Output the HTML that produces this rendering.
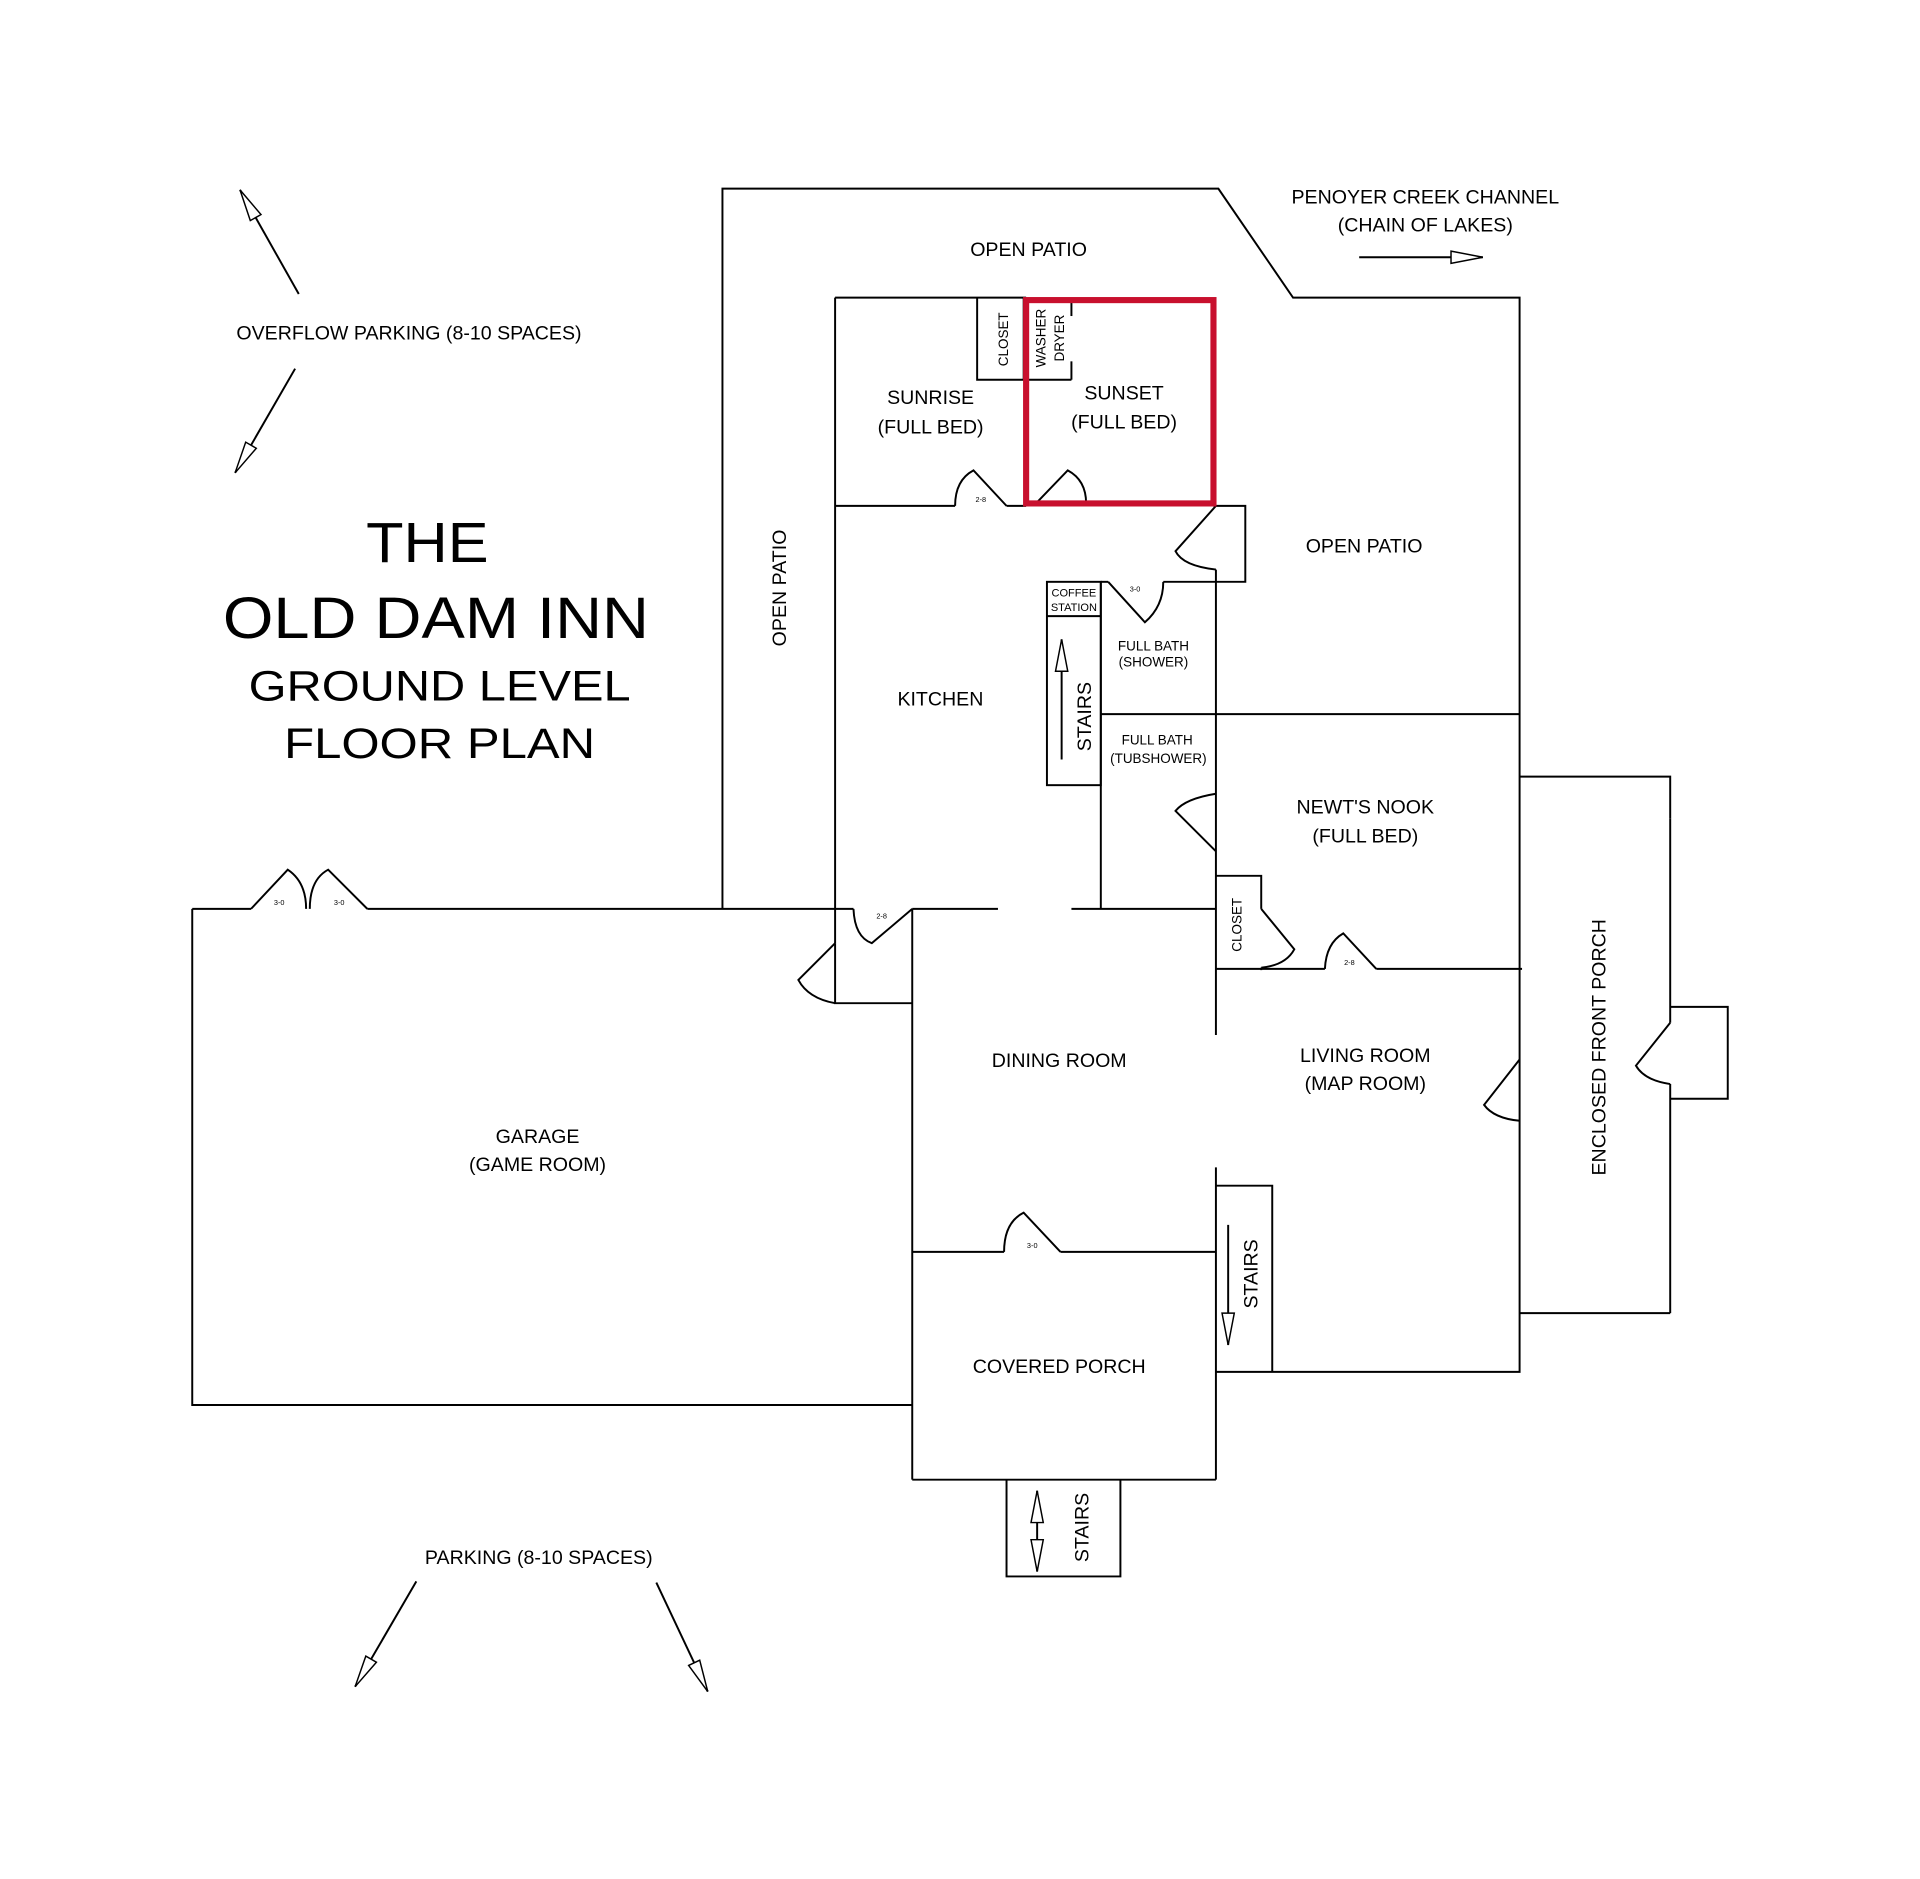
<!DOCTYPE html>
<html><head><meta charset="utf-8"><style>html,body{margin:0;padding:0;background:#fff}svg{display:block}text{font-family:"Liberation Sans",Arial,sans-serif;fill:#000}</style></head>
<body>
<svg width="1920" height="1879" viewBox="0 0 1568 1534" preserveAspectRatio="none" xmlns="http://www.w3.org/2000/svg">
<defs>
<marker id="ah" markerWidth="28" markerHeight="12" refX="27" refY="6" orient="auto" markerUnits="userSpaceOnUse">
<path d="M1,1 L27,6 L1,11 Z" fill="#fff" stroke="#000" stroke-width="1.2"/>
</marker>
<marker id="ahs" markerWidth="28" markerHeight="12" refX="1" refY="6" orient="auto" markerUnits="userSpaceOnUse">
<path d="M27,1 L1,6 L27,11 Z" fill="#fff" stroke="#000" stroke-width="1.2"/>
</marker>
</defs>
<g fill="none" stroke="#000" stroke-width="1.6">
<!-- open patio outline -->
<polyline points="590,742 590,154 995,154 1056,243 1241,243 1241,1120 993,1120"/>
<!-- inner top -->
<line x1="682" y1="243" x2="838" y2="243"/>
<line x1="682" y1="243" x2="682" y2="770"/>
<polyline points="682,770 682,819 745,819"/>
<!-- sunrise bottom wall -->
<line x1="682" y1="413" x2="780" y2="413"/>
<line x1="822" y1="413" x2="838" y2="413"/>
<!-- closet / washer -->
<polyline points="798,243 798,310 836,310"/>
<line x1="836" y1="243" x2="836" y2="310"/>
<line x1="836" y1="310" x2="875" y2="310"/>
<line x1="875" y1="243" x2="875" y2="258"/>
<line x1="875" y1="295" x2="875" y2="310"/>
<!-- patio box right of kitchen -->
<polyline points="991,413 1017,413 1017,475 993,475"/>
<line x1="993" y1="465" x2="993" y2="845"/>
<line x1="993" y1="953" x2="993" y2="1208"/>
<!-- bath / coffee -->
<line x1="899" y1="475" x2="905" y2="475"/>
<line x1="950" y1="475" x2="993" y2="475"/>
<rect x="855" y="475" width="44" height="166"/>
<line x1="855" y1="503" x2="899" y2="503"/>
<line x1="899" y1="475" x2="899" y2="742"/>
<line x1="899" y1="583" x2="1241" y2="583"/>
<!-- closet newt -->
<polyline points="993,715 1030,715 1030,742"/>
<line x1="1030" y1="790" x2="1030" y2="792"/>
<line x1="993" y1="791" x2="1082" y2="791"/>
<line x1="1124" y1="791" x2="1243" y2="791"/>
<!-- wall y=742 -->
<line x1="157" y1="742" x2="205" y2="742"/>
<line x1="300" y1="742" x2="697" y2="742"/>
<line x1="745" y1="742" x2="815" y2="742"/>
<line x1="875" y1="742" x2="993" y2="742"/>
<!-- garage -->
<polyline points="157,742 157,1147 745,1147"/>
<line x1="745" y1="742" x2="745" y2="1208"/>
<!-- covered porch -->
<line x1="745" y1="1022" x2="820" y2="1022"/>
<line x1="866" y1="1022" x2="993" y2="1022"/>
<line x1="745" y1="1208" x2="993" y2="1208"/>
<!-- bottom stairs -->
<polyline points="822,1208 822,1287 915,1287 915,1208"/>
<!-- living stairs -->
<polyline points="993,968 1039,968 1039,1120"/>
<!-- front porch -->
<polyline points="1241,634 1364,634 1364,668"/>
<line x1="1364" y1="668" x2="1364" y2="835"/>
<line x1="1364" y1="885" x2="1364" y2="1072"/>
<line x1="1241" y1="1072" x2="1364" y2="1072"/>
<polyline points="1364,822 1411,822 1411,897 1364,897"/>
<!-- doors -->
<path d="M780,413 Q780,392 795,384 L822,413"/>
<path d="M887,411 Q887,392 872,384 L846,411"/>
<path d="M993,413 L960,450 Q966,462 993,465"/>
<path d="M905,475 L935,508 Q950,495 950,475"/>
<path d="M993,648 Q968,652 960,662 L993,695"/>
<path d="M1030,742 L1057,775 Q1050,788 1030,790"/>
<path d="M1082,791 Q1083,770 1097,762 L1124,791"/>
<path d="M1241,865 L1212,902 Q1220,913 1241,915"/>
<path d="M1364,835 L1336,870 Q1343,882 1364,885"/>
<path d="M697,742 Q698,765 712,770 L745,742"/>
<path d="M682,770 L652,800 Q660,815 682,819"/>
<path d="M205,742 L235,710 Q250,720 250,742"/>
<path d="M253,742 Q253,718 268,710 L300,742"/>
<path d="M820,1022 Q820,998 836,990 L866,1022"/>
<!-- arrows -->
<line x1="244" y1="240" x2="196" y2="155" marker-end="url(#ah)"/>
<line x1="241" y1="301" x2="192" y2="386" marker-end="url(#ah)"/>
<line x1="1110" y1="210" x2="1211" y2="210" marker-end="url(#ah)"/>
<line x1="340" y1="1291" x2="290" y2="1377" marker-end="url(#ah)"/>
<line x1="536" y1="1292" x2="578" y2="1381" marker-end="url(#ah)"/>
<line x1="867" y1="620" x2="867" y2="522" marker-end="url(#ah)"/>
<line x1="1003" y1="1000" x2="1003" y2="1098" marker-end="url(#ah)"/>
<line x1="847" y1="1217" x2="847" y2="1283" marker-start="url(#ahs)" marker-end="url(#ah)"/>
</g>
<rect x="838" y="245" width="153" height="166" fill="none" stroke="#c8102e" stroke-width="5"/>
<g font-size="16" text-anchor="middle">
<text x="840" y="209">OPEN PATIO</text>
<text x="1164" y="166">PENOYER CREEK CHANNEL</text>
<text x="1164" y="189">(CHAIN OF LAKES)</text>
<text x="334" y="277">OVERFLOW PARKING (8-10 SPACES)</text>
<text x="760" y="330">SUNRISE</text>
<text x="760" y="354">(FULL BED)</text>
<text x="918" y="326">SUNSET</text>
<text x="918" y="350">(FULL BED)</text>
<text x="1114" y="451">OPEN PATIO</text>
<text x="768" y="576">KITCHEN</text>
<text x="1115" y="664">NEWT'S NOOK</text>
<text x="1115" y="688">(FULL BED)</text>
<text x="865" y="871">DINING ROOM</text>
<text x="1115" y="867">LIVING ROOM</text>
<text x="1115" y="890">(MAP ROOM)</text>
<text x="439" y="933">GARAGE</text>
<text x="439" y="956">(GAME ROOM)</text>
<text x="865" y="1121">COVERED PORCH</text>
<text x="440" y="1277">PARKING (8-10 SPACES)</text>
<text transform="translate(642,480) rotate(-90)">OPEN PATIO</text>
<text transform="translate(1311,855) rotate(-90)">ENCLOSED FRONT PORCH</text>
<text transform="translate(891,585) rotate(-90)">STAIRS</text>
<text transform="translate(1027,1040) rotate(-90)">STAIRS</text>
<text transform="translate(889,1247) rotate(-90)">STAIRS</text>
</g>
<g font-size="11" text-anchor="middle">
<text x="942" y="531">FULL BATH</text>
<text x="942" y="544">(SHOWER)</text>
<text x="945" y="608">FULL BATH</text>
<text x="946" y="623">(TUBSHOWER)</text>
<text transform="translate(823,277) rotate(-90)">CLOSET</text>
<text transform="translate(854,276) rotate(-90)">WASHER</text>
<text transform="translate(869,276) rotate(-90)">DRYER</text>
<text transform="translate(1014,755) rotate(-90)">CLOSET</text>
</g>
<g font-size="9" text-anchor="middle">
<text x="877" y="487">COFFEE</text>
<text x="877" y="499">STATION</text>
</g>
<g font-size="6" text-anchor="middle">
<text x="801" y="410">2-8</text><text x="927" y="483">3-0</text>
<text x="720" y="750">2-8</text><text x="228" y="739">3-0</text><text x="277" y="739">3-0</text>
<text x="843" y="1019">3-0</text><text x="1102" y="788">2-8</text>
</g>
<g text-anchor="middle" fill="#000">
<text x="349" y="459" font-size="46" textLength="100" lengthAdjust="spacingAndGlyphs">THE</text>
<text x="356" y="521" font-size="48" textLength="348" lengthAdjust="spacingAndGlyphs">OLD DAM INN</text>
<text x="359" y="572" font-size="35" textLength="312" lengthAdjust="spacingAndGlyphs">GROUND LEVEL</text>
<text x="359" y="619" font-size="35" textLength="254" lengthAdjust="spacingAndGlyphs">FLOOR PLAN</text>
</g>
</svg>
</body></html>
